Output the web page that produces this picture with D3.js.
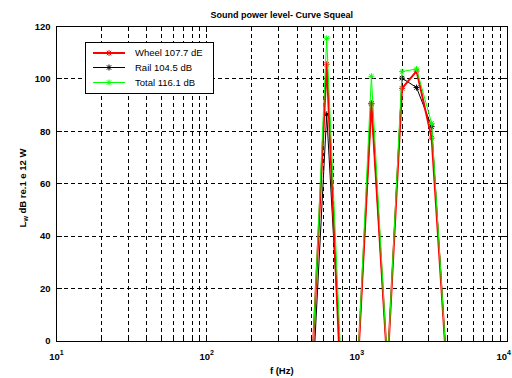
<!DOCTYPE html>
<meta charset="utf-8">
<title>Sound power level</title>
<script src="https://d3js.org/d3.v7.min.js"></script>
<style>
    body { margin: 0; background: #fff; }
    text { font-family: "Liberation Sans", Arial, sans-serif; fill: #000; }
</style>
<body>
<div id="plot"></div>
<script>
// 1/3 octave band centres (Hz) and levels
var bands = [400, 500, 630, 800, 1000, 1250, 1600, 2000, 2500, 3150, 4000, 5000];
var wheel = [-40, -13, 105.6, -30, -17, 90.7, -10, 96.4, 103, 77.4, -14, -40];
var rail  = [-40, -24, 86.5, -20, -17, 90.5, -10, 100.3, 96.7, 81.8, -14, -40];
var total = [-40, -14, 115.5, -19, -17, 101, -10, 102.8, 103.8, 83, -14, -40];

var legendLabels = ["Wheel 107.7 dE", "Rail 104.5 dB", "Total 116.1 dB"];
var yTicks = [0, 20, 40, 60, 80, 100, 120];
var xDecades = [10, 100, 1000, 10000];

var margin = {top: 26.5, right: 5, bottom: 37, left: 56.5},
    width = 512 - margin.left - margin.right,
    height = 378 - margin.top - margin.bottom;

var svg = d3.select("#plot")
    .append("svg")
        .attr("width", 512)
        .attr("height", 378)
    .append("g")
        .attr("transform", "translate(" + margin.left + "," + margin.top + ")");

var x = d3.scaleLog().domain([10, 10000]).range([0, width]);
var y = d3.scaleLinear().domain([0, 120]).range([height, 0]);

svg.append("clipPath").attr("id", "clip")
    .append("rect").attr("width", width).attr("height", height);

// grid (major + minor)
var xt = x.ticks();
var grid = svg.append("g")
    .attr("stroke", "#000")
    .attr("stroke-width", 1)
    .attr("stroke-dasharray", "4,3")
    .attr("shape-rendering", "crispEdges");
grid.selectAll(".vx")
    .data(xt.filter(function (d) { return d > 10 && d < 10000; }))
    .enter().append("line")
    .attr("x1", function (d) { return x(d); })
    .attr("x2", function (d) { return x(d); })
    .attr("y1", 0).attr("y2", height);
grid.selectAll(".hy")
    .data(yTicks.filter(function (d) { return d > 0 && d < 120; }))
    .enter().append("line")
    .attr("x1", 0).attr("x2", width)
    .attr("y1", function (d) { return y(d); })
    .attr("y2", function (d) { return y(d); });

// ticks inside the box
var ticks = svg.append("g").attr("stroke", "#000").attr("shape-rendering", "crispEdges");
xt.forEach(function (d) {
    var major = Math.abs(Math.log10(d) - Math.round(Math.log10(d))) < 1e-9;
    var len = major ? 5 : 3;
    ticks.append("line").attr("x1", x(d)).attr("x2", x(d)).attr("y1", height).attr("y2", height - len);
    ticks.append("line").attr("x1", x(d)).attr("x2", x(d)).attr("y1", 0).attr("y2", len);
});
yTicks.forEach(function (d) {
    ticks.append("line").attr("x1", 0).attr("x2", 5).attr("y1", y(d)).attr("y2", y(d));
    ticks.append("line").attr("x1", width).attr("x2", width - 5).attr("y1", y(d)).attr("y2", y(d));
});

// box
svg.append("rect")
    .attr("width", width).attr("height", height)
    .attr("fill", "none").attr("stroke", "#000")
    .attr("shape-rendering", "crispEdges");
svg.append("line")
    .attr("x1", 0).attr("x2", width).attr("y1", height + 0.5).attr("y2", height + 0.5)
    .attr("stroke", "#000").attr("shape-rendering", "crispEdges");

// tick labels
svg.selectAll(".yl").data(yTicks).enter().append("text")
    .attr("x", -6).attr("y", function (d) { return y(d); })
    .attr("dy", "0.35em")
    .attr("text-anchor", "end")
    .attr("font-size", "9.5px").attr("font-weight", "bold")
    .text(function (d) { return d; });

var xl = svg.selectAll(".xl").data(xDecades).enter().append("text")
    .attr("x", function (d, i) { return i === xDecades.length - 1 ? 512 - margin.left - 1 : x(d); })
    .attr("y", height + 19)
    .attr("text-anchor", function (d, i) { return i === xDecades.length - 1 ? "end" : "middle"; })
    .attr("font-size", "9.5px").attr("font-weight", "bold");
xl.append("tspan").text("10");
xl.append("tspan").attr("dy", -5).attr("font-size", "7px")
    .text(function (d) { return Math.round(Math.log10(d)); });

// titles
svg.append("text")
    .attr("x", width / 2).attr("y", -8.5)
    .attr("text-anchor", "middle")
    .attr("font-size", "9px").attr("font-weight", "bold")
    .text("Sound power level- Curve Squeal");

svg.append("text")
    .attr("x", width / 2).attr("y", height + 33)
    .attr("text-anchor", "middle")
    .attr("font-size", "9.5px").attr("font-weight", "bold")
    .text("f (Hz)");

var yl = svg.append("text")
    .attr("transform", "translate(" + (25.5 - margin.left) + "," + (188 - margin.top) + ") rotate(-90)")
    .attr("text-anchor", "middle")
    .attr("font-size", "9.5px").attr("font-weight", "bold");
yl.append("tspan").text("L");
yl.append("tspan").attr("dy", 2).attr("font-size", "7px").text("w");
yl.append("tspan").attr("dy", -2).text(" dB re.1 e 12 W");

// series
var series = [
    {name: "rail", values: rail, color: "#000", w: 1},
    {name: "wheel", values: wheel, color: "#ff0000", w: 2},
    {name: "total", values: total, color: "#00ff00", w: 1}
];
var star = "M-3,0H3M0,-3V3M-2.2,-2.2L2.2,2.2M-2.2,2.2L2.2,-2.2";

var line = d3.line()
    .x(function (d) { return x(d[0]); })
    .y(function (d) { return y(d[1]); });

var plot = svg.append("g").attr("clip-path", "url(#clip)");
series.forEach(function (s) {
    var pts = bands.map(function (f, i) { return [f, s.values[i]]; });
    plot.append("path")
        .datum(pts)
        .attr("d", line)
        .attr("fill", "none")
        .attr("stroke", s.color)
        .attr("stroke-width", s.w)
        .attr("stroke-linejoin", "bevel");
    plot.selectAll(".m-" + s.name)
        .data(pts.filter(function (d) { return d[1] >= 0; }))
        .enter().append("path")
        .attr("d", star)
        .attr("transform", function (d) { return "translate(" + x(d[0]) + "," + y(d[1]) + ")"; })
        .attr("fill", "none")
        .attr("stroke", s.color)
        .attr("stroke-width", 1);
});

// legend
var lg = svg.append("g").attr("transform", "translate(" + (85 - margin.left) + "," + (42.5 - margin.top) + ")");
lg.append("rect")
    .attr("width", 128).attr("height", 51)
    .attr("fill", "#fff").attr("stroke", "#000")
    .attr("shape-rendering", "crispEdges");
var legendItems = [
    {color: "#ff0000", w: 2},
    {color: "#000", w: 1},
    {color: "#00ff00", w: 1}
];
var rowY = [10.5, 25, 40];
legendItems.forEach(function (it, i) {
    lg.append("line")
        .attr("x1", 8).attr("x2", 40)
        .attr("y1", rowY[i]).attr("y2", rowY[i])
        .attr("stroke", it.color).attr("stroke-width", it.w);
    lg.append("path")
        .attr("d", star)
        .attr("transform", "translate(24," + rowY[i] + ")")
        .attr("fill", "none").attr("stroke", it.color);
    lg.append("text")
        .attr("x", 50).attr("y", rowY[i])
        .attr("dy", "0.35em")
        .attr("font-size", "9.5px")
        .text(legendLabels[i]);
});
</script>
</body>
